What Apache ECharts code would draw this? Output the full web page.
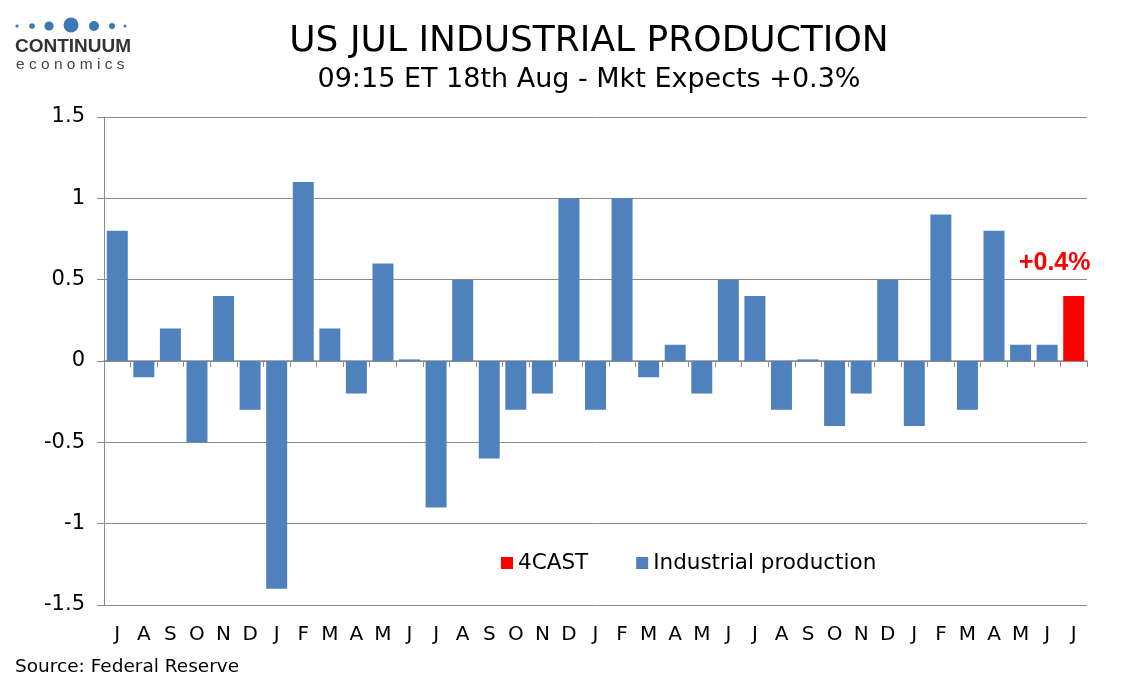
<!DOCTYPE html>
<html>
<head>
<meta charset="utf-8">
<script src="https://cdn.jsdelivr.net/npm/echarts@6/dist/echarts.min.js"></script>
<style>
  html, body { margin: 0; padding: 0; background: #fff; }
  #chart { width: 1134px; height: 680px; }
</style>
</head>
<body>
<div id="chart"></div>
<script>
// month initials, Jul through Jul three years on
var months = ['J','A','S','O','N','D','J','F','M','A','M','J','J','A','S','O','N','D',
  'J','F','M','A','M','J','J','A','S','O','N','D','J','F','M','A','M','J','J'];

// monthly % change, last month left empty (forecast)
var industrial = [0.8,-0.1,0.2,-0.5,0.4,-0.3,-1.4,1.1,0.2,-0.2,0.6,0.01,-0.9,0.5,-0.6,-0.3,-0.2,1.0,
  -0.3,1.0,-0.1,0.1,-0.2,0.5,0.4,-0.3,0.01,-0.4,-0.2,0.5,-0.4,0.9,-0.3,0.8,0.1,0.1,null];

// 4CAST only on the last month
var forecast = [];
for (var i = 0; i < months.length - 1; i++) forecast.push(null);
forecast.push(0.4);

var font = 'DejaVu Sans';
var grey = '#8c8c8c';

var chart = echarts.init(document.getElementById('chart'));

chart.setOption({
  animation: false,
  textStyle: { fontFamily: font, color: '#000' },
  title: [
    { text: 'US JUL INDUSTRIAL PRODUCTION', left: 584, top: 19, textAlign: 'center',
      textStyle: { fontFamily: font, fontSize: 36, fontWeight: 'normal', color: '#000' } },
    { text: '09:15 ET 18th Aug - Mkt Expects +0.3%', left: 584, top: 61, textAlign: 'center',
      textStyle: { fontFamily: font, fontSize: 27, fontWeight: 'normal', color: '#000' } },
    { text: 'Source: Federal Reserve', left: 10, top: 653,
      textStyle: { fontFamily: font, fontSize: 18.5, fontWeight: 'normal', color: '#000' } }
  ],
  legend: {
    left: 496, top: 547,
    itemWidth: 12, itemHeight: 12, itemGap: 48,
    icon: 'rect',
    textStyle: { fontFamily: font, fontSize: 21.5, color: '#000' },
    data: ['4CAST', 'Industrial production']
  },
  grid: { left: 104, right: 47, top: 117, bottom: 75 },
  xAxis: [
    {
      type: 'category', data: months,
      axisLine: { onZero: true, lineStyle: { color: grey, width: 1.5 } },
      axisTick: { show: true, length: 6, lineStyle: { color: grey } },
      axisLabel: { show: false }
    },
    {
      type: 'category', data: months, position: 'bottom',
      axisLine: { show: false, onZero: false },
      axisTick: { show: false },
      axisLabel: { fontFamily: font, fontSize: 20, color: '#000', margin: 20 }
    }
  ],
  yAxis: {
    type: 'value', min: -1.5, max: 1.5, interval: 0.5,
    axisLine: { show: true, lineStyle: { color: grey } },
    axisTick: { show: true, length: 7, lineStyle: { color: grey } },
    axisLabel: { fontFamily: font, fontSize: 21, color: '#000', margin: 19 },
    splitLine: { lineStyle: { color: grey, width: 1 } }
  },
  series: [
    {
      name: '4CAST', type: 'bar', data: forecast,
      barWidth: '79%', barGap: '-100%',
      itemStyle: { color: '#ff0000' },
      label: {
        show: true, position: 'top', distance: 20, offset: [-19, 0],
        formatter: '+{c}%',
        fontFamily: 'Liberation Sans', fontSize: 25, fontWeight: 'bold', color: '#ff0000'
      }
    },
    {
      name: 'Industrial production', type: 'bar', data: industrial,
      barWidth: '79%',
      itemStyle: { color: '#4f81bd' }
    }
  ],
  graphic: [
    { type: 'circle', shape: { cx: 17, cy: 26, r: 1.6 }, style: { fill: '#3b78b4' } },
    { type: 'circle', shape: { cx: 32, cy: 26, r: 2.8 }, style: { fill: '#3b78b4' } },
    { type: 'circle', shape: { cx: 49, cy: 26, r: 4.6 }, style: { fill: '#3b78b4' } },
    { type: 'circle', shape: { cx: 71, cy: 25, r: 7.5 }, style: { fill: '#3b78b4' } },
    { type: 'circle', shape: { cx: 94, cy: 26, r: 5 }, style: { fill: '#3b78b4' } },
    { type: 'circle', shape: { cx: 112, cy: 26, r: 3 }, style: { fill: '#3b78b4' } },
    { type: 'circle', shape: { cx: 125, cy: 26, r: 1.5 }, style: { fill: '#3b78b4' } },
    { type: 'text', left: 15, top: 37, style: {
        text: 'CONTINUUM', fill: '#333', font: 'bold 19px "Liberation Sans Narrow", "Liberation Sans"' } },
    { type: 'text', left: 16, top: 57, style: {
        text: 'e c o n o m i c s', fill: '#444', font: '15.5px "Liberation Sans"' } }
  ]
});
</script>
</body>
</html>
